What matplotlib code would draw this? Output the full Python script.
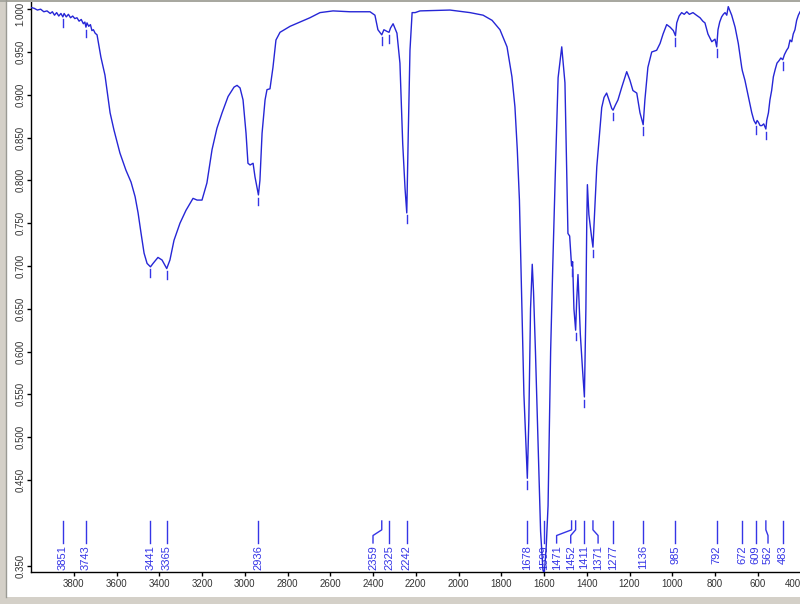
import numpy as np
import matplotlib
matplotlib.use("Agg")
import matplotlib.pyplot as plt
from matplotlib.patches import Rectangle
from matplotlib.lines import Line2D
import matplotlib.transforms as mtransforms

plt.rcParams['font.family'] = ['Liberation Sans', 'DejaVu Sans']

# ---- spectrum data (wavenumber cm-1, transmittance) ----
wavenumber = [4000, 3985, 3970, 3955, 3940, 3925, 3910, 3900, 3890, 3880, 3870, 3860,
              3851, 3845, 3835, 3825, 3815, 3805, 3795, 3785, 3775, 3765, 3755, 3748,
              3743, 3738, 3730, 3722, 3715, 3708, 3700, 3691, 3673, 3654, 3630, 3612,
              3584, 3556, 3532, 3513, 3499, 3485, 3471, 3457, 3441, 3429, 3406, 3387,
              3365, 3350, 3331, 3303, 3275, 3242, 3223, 3200, 3177, 3153, 3130, 3106,
              3078, 3050, 3036, 3022, 3008, 2994, 2985, 2975, 2961, 2952, 2936, 2929,
              2919, 2905, 2896, 2882, 2868, 2854, 2835, 2788, 2742, 2695, 2648, 2587,
              2508, 2414, 2391, 2377, 2359, 2349, 2334, 2325, 2318, 2306, 2288, 2274,
              2261, 2250, 2242, 2235, 2227, 2217, 2203, 2180, 2040, 1946, 1885, 1843,
              1806, 1773, 1750, 1736, 1725, 1715, 1704, 1694, 1678, 1671, 1663, 1655,
              1649, 1640, 1616, 1605, 1599, 1590, 1581, 1569, 1559, 1548, 1534, 1517,
              1502, 1494, 1488, 1480, 1474, 1471, 1466, 1460, 1452, 1447, 1441, 1430,
              1420, 1411, 1404, 1400, 1397, 1390, 1378, 1371, 1362, 1353, 1338, 1330,
              1319, 1307, 1296, 1283, 1277, 1266, 1254, 1236, 1213, 1198, 1184, 1166,
              1151, 1136, 1128, 1114, 1096, 1073, 1057, 1043, 1026, 1010, 995, 985,
              979, 968, 956, 944, 932, 920, 903, 887, 870, 857, 847, 833, 815, 800,
              792, 786, 778, 769, 761, 753, 745, 738, 730, 722, 706, 691, 675, 672,
              660, 644, 628, 618, 609, 603, 597, 589, 581, 572, 562, 558, 550, 543,
              535, 527, 518, 510, 500, 492, 483, 475, 465, 457, 449, 441, 434, 426,
              418, 410, 402]
transmittance = [1.002, 1.001, 0.999, 1.000, 0.997, 0.998, 0.995, 0.997, 0.993, 0.996, 0.992, 0.995,
                 0.991, 0.995, 0.991, 0.994, 0.990, 0.992, 0.989, 0.990, 0.986, 0.988, 0.983, 0.985,
                 0.979, 0.984, 0.980, 0.982, 0.975, 0.976, 0.972, 0.970, 0.944, 0.923, 0.879, 0.859,
                 0.832, 0.812, 0.798, 0.781, 0.762, 0.738, 0.715, 0.703, 0.699, 0.703, 0.710, 0.707,
                 0.697, 0.707, 0.730, 0.750, 0.765, 0.779, 0.777, 0.777, 0.797, 0.836, 0.861, 0.879,
                 0.898, 0.909, 0.911, 0.908, 0.894, 0.855, 0.820, 0.818, 0.820, 0.804, 0.783, 0.800,
                 0.855, 0.894, 0.906, 0.907, 0.932, 0.964, 0.973, 0.980, 0.985, 0.990, 0.996, 0.998,
                 0.997, 0.997, 0.993, 0.976, 0.970, 0.976, 0.974, 0.973, 0.978, 0.983, 0.972, 0.937,
                 0.843, 0.790, 0.762, 0.855, 0.952, 0.996, 0.996, 0.998, 0.999, 0.996, 0.993, 0.987,
                 0.976, 0.956, 0.921, 0.886, 0.836, 0.777, 0.660, 0.550, 0.452, 0.520, 0.650, 0.702,
                 0.670, 0.600, 0.390, 0.345, 0.340, 0.370, 0.420, 0.600, 0.700, 0.800, 0.920, 0.956,
                 0.914, 0.816, 0.738, 0.735, 0.712, 0.700, 0.705, 0.650, 0.625, 0.660, 0.690, 0.620,
                 0.580, 0.547, 0.650, 0.750, 0.795, 0.760, 0.735, 0.722, 0.770, 0.816, 0.862, 0.885,
                 0.897, 0.902, 0.894, 0.884, 0.882, 0.888, 0.894, 0.909, 0.927, 0.917, 0.905, 0.902,
                 0.879, 0.865, 0.894, 0.932, 0.950, 0.952, 0.960, 0.971, 0.982, 0.979, 0.975, 0.969,
                 0.984, 0.992, 0.996, 0.994, 0.997, 0.994, 0.996, 0.993, 0.990, 0.986, 0.984, 0.971,
                 0.962, 0.965, 0.956, 0.976, 0.985, 0.991, 0.994, 0.996, 0.993, 1.003, 0.998, 0.993,
                 0.979, 0.960, 0.932, 0.928, 0.917, 0.898, 0.879, 0.870, 0.866, 0.870, 0.868, 0.864,
                 0.864, 0.866, 0.860, 0.870, 0.879, 0.894, 0.905, 0.921, 0.930, 0.937, 0.940, 0.943,
                 0.941, 0.947, 0.952, 0.955, 0.964, 0.962, 0.971, 0.976, 0.987, 0.993, 0.997]

# ---- peak annotations ----
peak_labels = ['3851', '3743', '3441', '3365', '2936', '2359', '2325', '2242', '1678', '1599',
               '1471', '1452', '1411', '1371', '1277', '1136', '985', '792', '672', '609', '562', '483']
peak_wn = [3851, 3743, 3441, 3365, 2936, 2359, 2325, 2242, 1678, 1599,
           1471, 1452, 1411, 1371, 1277, 1136, 985, 792, 672, 609, 562, 483]
# peaks that carry a small tick mark on the curve
marked_peaks = [3851, 3743, 3441, 3365, 2936, 2359, 2325, 2242, 1678, 1599,
                1471, 1452, 1411, 1371, 1277, 1136, 985, 792, 609, 562, 483]

# y ticks (0.400 is not labelled in the original)
y_ticks = [0.350, 0.450, 0.500, 0.550, 0.600, 0.650, 0.700, 0.750, 0.800, 0.850, 0.900, 0.950, 1.000]
x_ticks = [3800, 3600, 3400, 3200, 3000, 2800, 2600, 2400, 2200, 2000, 1800, 1600, 1400,
           1200, 1000, 800, 600, 400]

# label text placement (shifted where labels are crowded)
label_shift = {'2359': 2400, '1471': 1541, '1452': 1475, '1371': 1347, '562': 552}

W, H = 800, 604
fig = plt.figure(figsize=(W / 100, H / 100), dpi=100)
fig.patch.set_facecolor('white')

ax = fig.add_axes([31 / W, 32 / H, 769.5 / W, 570 / H])
ax.set_facecolor('white')

curve_color = '#2626d6'
label_color = '#3535e6'

ax.plot(wavenumber, transmittance, color=curve_color, lw=1.0, zorder=3)

ax.set_xlim(4000, 400)
ax.set_ylim(0.3425, 1.0084)

for s in ['top', 'right']:
    ax.spines[s].set_visible(False)
for s in ['left', 'bottom']:
    ax.spines[s].set_color('black')
    ax.spines[s].set_linewidth(1.0)

ax.set_xticks(x_ticks)
ax.set_xticklabels([str(v) for v in x_ticks])
ax.set_yticks(y_ticks)
ax.set_yticklabels(['%.3f' % v for v in y_ticks], rotation=90, va='center')
ax.tick_params(axis='both', direction='out', length=3, width=1, colors='black',
               labelsize=7, labelcolor='#333333', pad=2)
ax.tick_params(axis='y', pad=1)
xl = ax.get_xticklabels()
xl[-1].set_ha('right')
yl = ax.get_yticklabels()
yl[-1].set_transform(yl[-1].get_transform() +
                     mtransforms.ScaledTranslation(0, -4.5 / 100, fig.dpi_scale_trans))

# peak markers on the curve
wn_arr = np.array(wavenumber)[::-1]
tr_arr = np.array(transmittance)[::-1]
for p in marked_peaks:
    t = np.interp(p, wn_arr, tr_arr)
    ax.plot([p, p], [t - 0.003, t - 0.012], color=label_color, lw=1.0, zorder=4, clip_on=True)

# peak label lines and text
trans = mtransforms.blended_transform_factory(ax.transData, ax.transAxes)
y_top, y_k1, y_k2, y_bot = 0.0895, 0.074, 0.064, 0.051
for lab, p in zip(peak_labels, peak_wn):
    tx = label_shift.get(lab, p)
    if tx == p:
        xs, ys = [p, p], [y_top, y_bot]
    else:
        xs, ys = [p, p, tx, tx], [y_top, y_k1, y_k2, y_bot]
    ax.add_line(Line2D(xs, ys, transform=trans, color=label_color, lw=1.0, zorder=2))
    ax.text(tx, 0.047, lab, transform=trans, rotation=90, ha='center', va='top',
            fontsize=8, color=label_color, zorder=2)

# window frame (grey borders)
fig.add_artist(Rectangle((0, 0), 6 / W, 1, transform=fig.transFigure,
                         facecolor='#d4d0c8', edgecolor='none', zorder=10))
fig.add_artist(Rectangle((0, 0), 1, 7 / H, transform=fig.transFigure,
                         facecolor='#d4d0c8', edgecolor='none', zorder=10))
fig.add_artist(Rectangle((0, 1 - 2 / H), 1, 2 / H, transform=fig.transFigure,
                         facecolor='#a8a8a0', edgecolor='none', zorder=10))
fig.add_artist(Line2D([5.5 / W, 5.5 / W], [7 / H, 1], transform=fig.transFigure,
                      color='#9a9a94', lw=1, zorder=11))

fig.savefig('out.png', dpi=100, facecolor=fig.get_facecolor())
